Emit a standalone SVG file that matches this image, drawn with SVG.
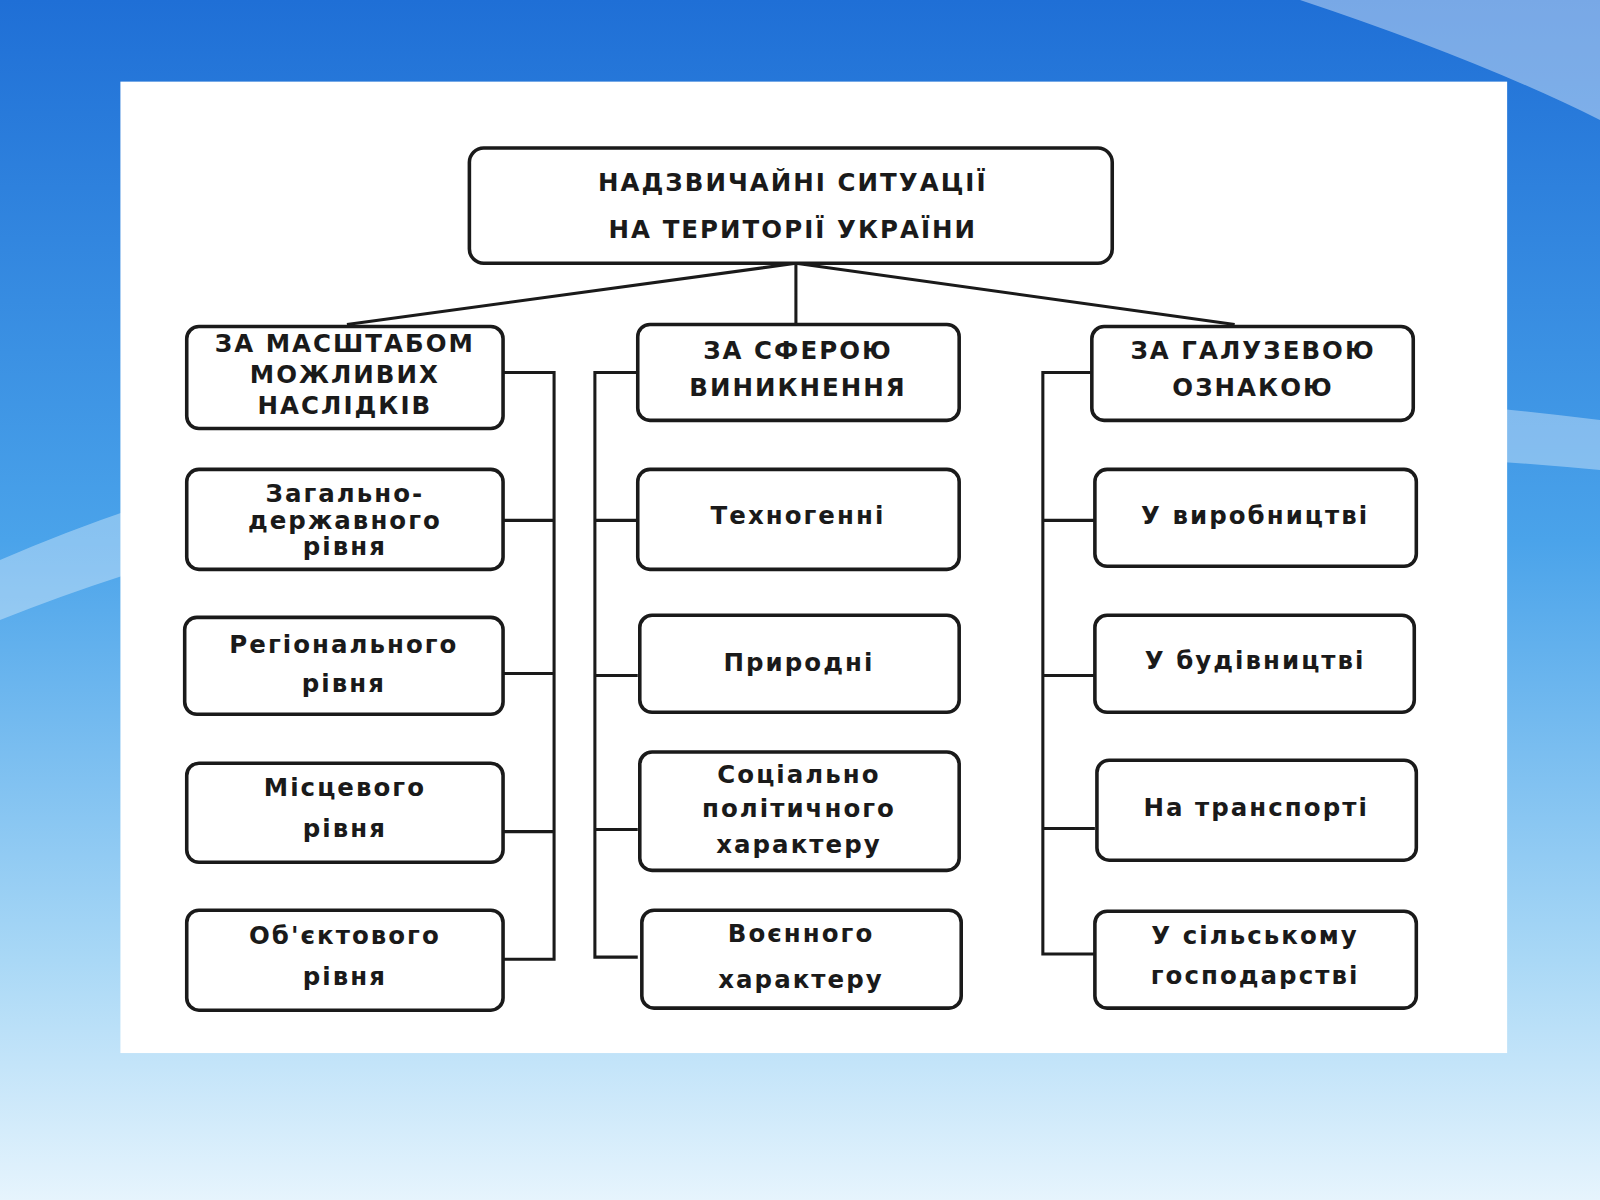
<svg xmlns="http://www.w3.org/2000/svg" width="1600" height="1200" viewBox="0 0 1600 1200">
<defs>
<linearGradient id="bg" x1="0" y1="0" x2="0" y2="1">
<stop offset="0" stop-color="#1f6fd6"/>
<stop offset="0.45" stop-color="#4aa3ea"/>
<stop offset="0.8" stop-color="#a9d8f6"/>
<stop offset="1" stop-color="#e6f4fd"/>
</linearGradient>
<style>
.b{fill:#fff;stroke:#1a1a1a;stroke-width:3.5}
.t{font-family:"DejaVu Sans",sans-serif;font-weight:bold;font-size:24px;fill:#1a1a1a;text-anchor:middle;letter-spacing:2px}
.c{stroke:#1a1a1a;stroke-width:3;fill:none}
</style>
</defs>
<rect width="1600" height="1200" fill="url(#bg)"/>
<path d="M0 560 Q600 300 1600 420 L1600 470 Q600 380 0 620 Z" fill="#fff" opacity="0.35"/>
<path d="M1300 0 L1600 0 L1600 120 Q1480 60 1300 0Z" fill="#fff" opacity="0.4"/>
<g transform="scale(1.0204)">
<rect x="118" y="80" width="1359" height="952" fill="#fff"/>
<g id="connectors" class="c">
<path d="M780 258 V318 M780 258 L340 318 M780 258 L1210 318"/>
<path d="M493 365 H543 V940 H493 M493 510 H543 M493 660 H543 M493 815 H543"/>
<path d="M625 365 H583 V938 H625 M583 510 H625 M583 662 H625 M583 813 H625"/>
<path d="M1073 365 H1022 V935 H1073 M1022 510 H1073 M1022 662 H1073 M1022 812 H1073"/>
</g>
<g id="root"><rect class="b" x="460" y="145" width="630" height="113" rx="14"/>
<text class="t" x="777" y="187" font-size="27">НАДЗВИЧАЙНІ СИТУАЦІЇ</text>
<text class="t" x="777" y="233" font-size="27">НА ТЕРИТОРІЇ УКРАЇНИ</text></g>
<g id="h1"><rect class="b" x="183" y="320" width="310" height="100" rx="12"/>
<text class="t" x="338" y="345" font-size="20" letter-spacing="1">ЗА МАСШТАБОМ</text>
<text class="t" x="338" y="375" font-size="20">МОЖЛИВИХ</text>
<text class="t" x="338" y="406" font-size="20">НАСЛІДКІВ</text></g>
<g id="h2"><rect class="b" x="625" y="318" width="315" height="94" rx="12"/>
<text class="t" x="782" y="352" font-size="21">ЗА СФЕРОЮ</text>
<text class="t" x="782" y="388" font-size="21">ВИНИКНЕННЯ</text></g>
<g id="h3"><rect class="b" x="1070" y="320" width="315" height="92" rx="12"/>
<text class="t" x="1228" y="352" font-size="21">ЗА ГАЛУЗЕВОЮ</text>
<text class="t" x="1228" y="388" font-size="21">ОЗНАКОЮ</text></g>
<g id="l1"><rect class="b" x="183" y="460" width="310" height="98" rx="12"/>
<text class="t" x="338" y="492" letter-spacing="4">Загально-</text>
<text class="t" x="338" y="518" letter-spacing="4">державного</text>
<text class="t" x="338" y="544" letter-spacing="4">рівня</text></g>
<g id="l2"><rect class="b" x="181" y="605" width="312" height="95" rx="12"/>
<text class="t" x="337" y="640">Регіонального</text>
<text class="t" x="337" y="678">рівня</text></g>
<g id="l3"><rect class="b" x="183" y="748" width="310" height="97" rx="12"/>
<text class="t" x="338" y="780">Місцевого</text>
<text class="t" x="338" y="820">рівня</text></g>
<g id="l4"><rect class="b" x="183" y="892" width="310" height="98" rx="12"/>
<text class="t" x="338" y="925">Об'єктового</text>
<text class="t" x="338" y="965">рівня</text></g>
<g id="m1"><rect class="b" x="625" y="460" width="315" height="98" rx="12"/>
<text class="t" x="782" y="514">Техногенні</text></g>
<g id="m2"><rect class="b" x="627" y="603" width="313" height="95" rx="12"/>
<text class="t" x="783" y="658" letter-spacing="4">Природні</text></g>
<g id="m3"><rect class="b" x="627" y="737" width="313" height="116" rx="12"/>
<text class="t" x="783" y="767" letter-spacing="3">Соціально</text>
<text class="t" x="783" y="801" letter-spacing="3">політичного</text>
<text class="t" x="783" y="836" letter-spacing="3">характеру</text></g>
<g id="m4"><rect class="b" x="629" y="892" width="313" height="96" rx="12"/>
<text class="t" x="785" y="923" letter-spacing="3">Воєнного</text>
<text class="t" x="785" y="968" letter-spacing="3">характеру</text></g>
<g id="r1"><rect class="b" x="1073" y="460" width="315" height="95" rx="12"/>
<text class="t" x="1230" y="514" letter-spacing="1">У виробництві</text></g>
<g id="r2"><rect class="b" x="1073" y="603" width="313" height="95" rx="12"/>
<text class="t" x="1230" y="656" letter-spacing="1">У будівництві</text></g>
<g id="r3"><rect class="b" x="1075" y="745" width="313" height="98" rx="12"/>
<text class="t" x="1231" y="800" letter-spacing="1">На транспорті</text></g>
<g id="r4"><rect class="b" x="1073" y="893" width="315" height="95" rx="12"/>
<text class="t" x="1230" y="925" letter-spacing="1">У сільському</text>
<text class="t" x="1230" y="964" letter-spacing="1">господарстві</text></g>
</g>
</svg>
